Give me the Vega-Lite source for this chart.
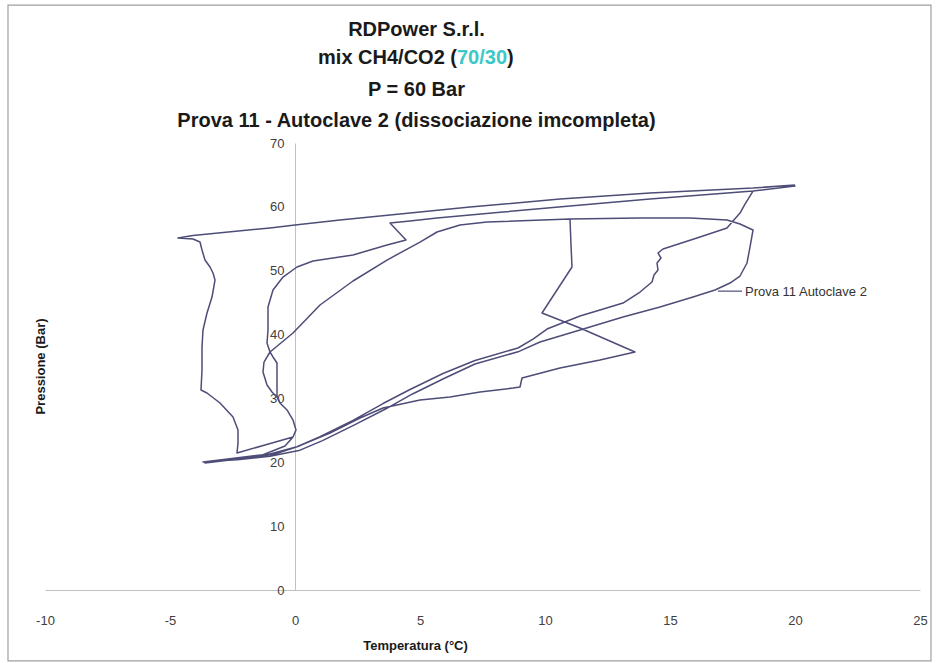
{
  "$schema": "https://vega.github.io/schema/vega-lite/v6.json",
  "width": 875,
  "height": 447,
  "autosize": {"type": "none"},
  "padding": {"left": 45, "top": 143, "right": 19, "bottom": 73},
  "background": "white",
  "config": {"view": {"stroke": null}, "font": "Liberation Sans"},
  "title": {
    "text": "RDPower S.r.l.",
    "subtitle": ["P = 60 Bar", "Prova 11 - Autoclave 2 (dissociazione imcompleta)"],
    "font": "Liberation Sans",
    "fontSize": 20,
    "fontWeight": "bold",
    "color": "#1a1a1a",
    "lineHeight": 31,
    "subtitleFont": "Liberation Sans",
    "subtitleFontSize": 20,
    "subtitleFontWeight": "bold",
    "subtitleColor": "#1a1a1a",
    "subtitleLineHeight": 31,
    "subtitlePadding": 40,
    "anchor": "middle",
    "frame": "group",
    "dx": -66,
    "offset": -127
  },
  "layer": [
    {
      "data": {"values": [{}]},
      "mark": {"type": "rect", "fill": null, "stroke": "#a0a0a0", "strokeWidth": 1.2},
      "encoding": {
        "x": {"datum": -11.48, "type": "quantitative"},
        "x2": {"datum": 25.44},
        "y": {"datum": 91.6, "type": "quantitative"},
        "y2": {"datum": -11.1}
      }
    },
    {
      "data": {"values": [
        {"t": 20.00, "p": 63.42}, {"t": 18.32, "p": 62.95}, {"t": 14.20, "p": 62.17}, {"t": 10.60, "p": 61.23},
        {"t": 7.00, "p": 59.97}, {"t": 4.20, "p": 58.88}, {"t": 1.80, "p": 57.94}, {"t": 0.00, "p": 57.16},
        {"t": -1.00, "p": 56.69}, {"t": -4.08, "p": 55.51}, {"t": -4.68, "p": 55.12},
        {"t": -4.08, "p": 54.96}, {"t": -3.80, "p": 54.49}, {"t": -3.72, "p": 53.24}, {"t": -3.60, "p": 51.67},
        {"t": -3.40, "p": 50.58}, {"t": -3.28, "p": 49.64}, {"t": -3.20, "p": 48.54}, {"t": -3.32, "p": 45.88},
        {"t": -3.52, "p": 43.38}, {"t": -3.68, "p": 40.71}, {"t": -3.72, "p": 38.05}, {"t": -3.72, "p": 34.45},
        {"t": -3.76, "p": 31.32}, {"t": -3.52, "p": 30.85}, {"t": -3.00, "p": 29.28}, {"t": -2.48, "p": 27.09},
        {"t": -2.28, "p": 25.05}, {"t": -2.28, "p": 23.02}, {"t": -2.32, "p": 21.45},
        {"t": -1.20, "p": 22.71}, {"t": -0.08, "p": 23.96},
        {"t": 0.04, "p": 25.05}, {"t": -0.08, "p": 26.62}, {"t": -0.32, "p": 28.19}, {"t": -0.60, "p": 29.28},
        {"t": -0.72, "p": 30.38}, {"t": -0.72, "p": 32.41}, {"t": -0.72, "p": 35.55}, {"t": -0.88, "p": 36.49},
        {"t": -1.00, "p": 37.27}, {"t": -1.12, "p": 38.68}, {"t": -1.08, "p": 40.71}, {"t": -1.08, "p": 44.32},
        {"t": -0.88, "p": 46.98}, {"t": -0.48, "p": 49.01}, {"t": 0.08, "p": 50.58}, {"t": 0.72, "p": 51.52},
        {"t": 2.32, "p": 52.46}, {"t": 3.68, "p": 54.02}, {"t": 4.44, "p": 54.81}, {"t": 3.80, "p": 57.47},
        {"t": 4.60, "p": 57.78}, {"t": 5.68, "p": 58.25}, {"t": 8.32, "p": 59.19}, {"t": 11.00, "p": 60.13},
        {"t": 14.20, "p": 61.23}, {"t": 18.32, "p": 62.48}, {"t": 20.00, "p": 63.26}, {"t": 18.32, "p": 62.48},
        {"t": 18.00, "p": 60.44}, {"t": 17.80, "p": 59.03}, {"t": 17.52, "p": 57.78}, {"t": 17.28, "p": 56.69},
        {"t": 16.20, "p": 55.28}, {"t": 14.72, "p": 53.40}, {"t": 14.52, "p": 52.77}, {"t": 14.64, "p": 51.99},
        {"t": 14.48, "p": 51.21}, {"t": 14.52, "p": 50.11}, {"t": 14.36, "p": 49.33}, {"t": 14.28, "p": 48.23},
        {"t": 13.80, "p": 46.66}, {"t": 13.12, "p": 44.94}, {"t": 12.20, "p": 43.85}, {"t": 11.40, "p": 42.91},
        {"t": 10.08, "p": 40.87}, {"t": 9.52, "p": 39.30}, {"t": 8.92, "p": 37.90},
        {"t": 7.20, "p": 35.95}, {"t": 5.92, "p": 33.90}, {"t": 4.60, "p": 31.40}, {"t": 3.52, "p": 29.20},
        {"t": 2.32, "p": 26.55}, {"t": 1.00, "p": 24.00}, {"t": 0.08, "p": 22.45}, {"t": -1.00, "p": 21.30},
        {"t": -2.20, "p": 20.75}, {"t": -3.68, "p": 20.04},
        {"t": -2.20, "p": 20.45}, {"t": -1.00, "p": 20.95}, {"t": 0.20, "p": 21.90}, {"t": 1.10, "p": 23.40},
        {"t": 2.40, "p": 25.90}, {"t": 3.60, "p": 28.30}, {"t": 4.70, "p": 30.70}, {"t": 6.00, "p": 33.20},
        {"t": 7.20, "p": 35.40}, {"t": 8.92, "p": 37.30},
        {"t": 9.80, "p": 38.83}, {"t": 11.40, "p": 40.71}, {"t": 13.12, "p": 42.75}, {"t": 14.60, "p": 44.32},
        {"t": 15.92, "p": 45.88}, {"t": 16.80, "p": 46.98}, {"t": 17.40, "p": 48.07}, {"t": 17.80, "p": 49.17},
        {"t": 18.08, "p": 51.21}, {"t": 18.20, "p": 53.71}, {"t": 18.32, "p": 56.37},
        {"t": 17.80, "p": 57.31}, {"t": 17.28, "p": 57.94}, {"t": 15.80, "p": 58.25}, {"t": 13.80, "p": 58.25},
        {"t": 11.00, "p": 58.10}, {"t": 7.68, "p": 57.63}, {"t": 6.60, "p": 57.16}, {"t": 5.68, "p": 56.06},
        {"t": 5.00, "p": 54.49}, {"t": 3.68, "p": 51.67}, {"t": 2.32, "p": 48.39}, {"t": 1.00, "p": 44.63},
        {"t": -0.08, "p": 40.24}, {"t": -1.00, "p": 37.27},
        {"t": -1.24, "p": 35.70}, {"t": -1.28, "p": 34.14}, {"t": -1.12, "p": 32.10}, {"t": -0.92, "p": 31.00},
        {"t": -0.72, "p": 30.22}, {"t": -0.60, "p": 29.28}, {"t": -0.32, "p": 28.19}, {"t": -0.08, "p": 26.62},
        {"t": 0.04, "p": 25.05}, {"t": -0.08, "p": 23.96},
        {"t": -0.40, "p": 22.55}, {"t": -1.40, "p": 20.98}, {"t": -2.60, "p": 20.36}, {"t": -3.60, "p": 19.90},
        {"t": -2.20, "p": 20.55}, {"t": -0.80, "p": 21.30}, {"t": 0.20, "p": 22.60}, {"t": 1.40, "p": 24.58},
        {"t": 2.60, "p": 26.93}, {"t": 3.52, "p": 28.50}, {"t": 5.00, "p": 29.75}, {"t": 6.20, "p": 30.22},
        {"t": 7.40, "p": 31.00}, {"t": 8.72, "p": 31.63}, {"t": 9.00, "p": 31.79}, {"t": 9.08, "p": 33.20},
        {"t": 10.60, "p": 34.76}, {"t": 12.20, "p": 36.02}, {"t": 13.60, "p": 37.27},
        {"t": 11.40, "p": 41.03}, {"t": 9.88, "p": 43.38}, {"t": 11.08, "p": 50.58}, {"t": 11.04, "p": 54.02},
        {"t": 11.00, "p": 58.10}
      ]},
      "mark": {"type": "line", "stroke": "#4d4d78", "strokeWidth": 1.5, "strokeJoin": "round"},
      "encoding": {
        "x": {
          "field": "t", "type": "quantitative",
          "scale": {"domain": [-10, 25], "nice": false, "zero": false},
          "axis": {
            "values": [-10, -5, 0, 5, 10, 15, 20, 25],
            "labelExpr": "replace(datum.label, '\u2212', '-')",
            "grid": false, "ticks": false,
            "domainColor": "#c0c0c0", "domainWidth": 1,
            "labelPadding": 24, "labelFontSize": 13, "labelColor": "#404040",
            "labelFont": "Liberation Sans", "labelFlush": false, "labelOverlap": false,
            "title": "Temperatura (°C)",
            "titleFont": "Liberation Sans", "titleFontSize": 13, "titleFontWeight": "bold", "titleColor": "#1a1a1a",
            "titleX": 370, "titleY": 55, "titleAlign": "center", "titleBaseline": "middle"
          }
        },
        "y": {
          "field": "p", "type": "quantitative",
          "scale": {"domain": [0, 70], "nice": false},
          "axis": {
            "values": [0, 10, 20, 30, 40, 50, 60, 70],
            "offset": -250,
            "grid": false, "ticks": false,
            "domainColor": "#c0c0c0", "domainWidth": 1,
            "labelPadding": 11, "labelFontSize": 13, "labelColor": "#404040",
            "labelFont": "Liberation Sans", "labelFlush": false, "labelOverlap": false,
            "title": "Pressione (Bar)",
            "titleFont": "Liberation Sans", "titleFontSize": 13, "titleFontWeight": "bold", "titleColor": "#1a1a1a",
            "titleX": -255, "titleY": 223, "titleAngle": 270, "titleAlign": "center", "titleBaseline": "middle"
          }
        },
        "order": {"value": null}
      }
    },
    {
      "data": {"values": [{}]},
      "mark": {"type": "rule", "stroke": "#4d4d78", "strokeWidth": 1.2},
      "encoding": {
        "x": {"datum": 16.92, "type": "quantitative"},
        "x2": {"datum": 17.88},
        "y": {"datum": 46.8, "type": "quantitative"}
      }
    },
    {
      "data": {"values": [{}]},
      "mark": {"type": "text", "text": "Prova 11 Autoclave 2", "align": "left", "baseline": "middle",
               "font": "Liberation Sans", "fontSize": 13, "fill": "#333333"},
      "encoding": {
        "x": {"datum": 18.0, "type": "quantitative"},
        "y": {"datum": 46.74, "type": "quantitative"}
      }
    },
    {
      "data": {"values": [{}]},
      "mark": {"type": "text", "text": "mix CH4/CO2 (", "align": "right", "baseline": "middle", "dx": -25,
               "font": "Liberation Sans", "fontSize": 20, "fontWeight": "bold", "fill": "#1a1a1a"},
      "encoding": {
        "x": {"datum": 7.48, "type": "quantitative"},
        "y": {"datum": 83.3, "type": "quantitative"}
      }
    },
    {
      "data": {"values": [{}]},
      "mark": {"type": "text", "text": "70/30", "align": "center", "baseline": "middle",
               "font": "Liberation Sans", "fontSize": 20, "fontWeight": "bold", "fill": "#3cc8c8"},
      "encoding": {
        "x": {"datum": 7.48, "type": "quantitative"},
        "y": {"datum": 83.3, "type": "quantitative"}
      }
    },
    {
      "data": {"values": [{}]},
      "mark": {"type": "text", "text": ")", "align": "left", "baseline": "middle", "dx": 25,
               "font": "Liberation Sans", "fontSize": 20, "fontWeight": "bold", "fill": "#1a1a1a"},
      "encoding": {
        "x": {"datum": 7.48, "type": "quantitative"},
        "y": {"datum": 83.3, "type": "quantitative"}
      }
    }
  ]
}
